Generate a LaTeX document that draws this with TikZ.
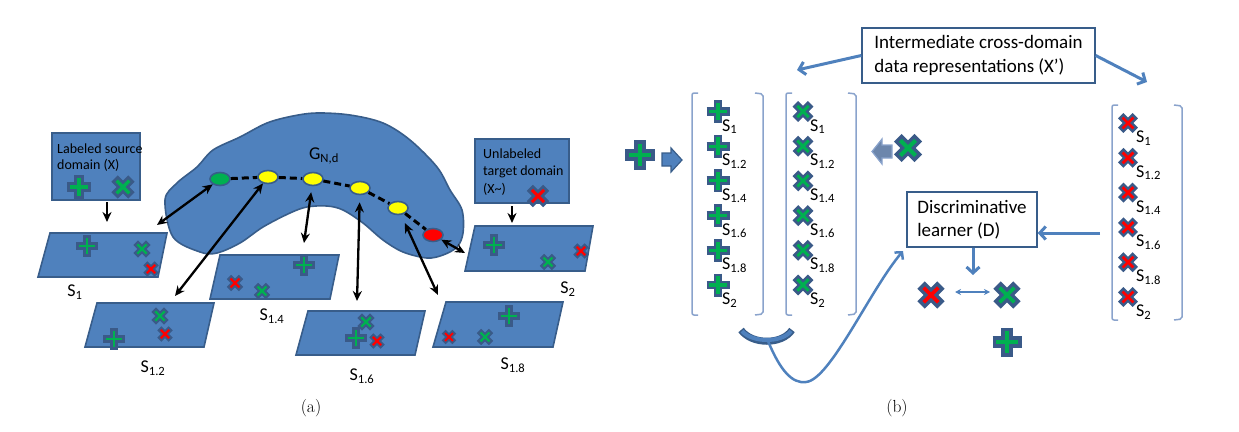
\documentclass[tikz,border=0pt]{standalone}
\usepackage{fontspec}
\newfontfamily\cf{Carlito}
\usetikzlibrary{arrows.meta,shapes.geometric}
\definecolor{fillb}{HTML}{4F81BD}
\definecolor{edgeb}{HTML}{385D8A}
\definecolor{mk}{HTML}{3A5A88}
\definecolor{mg}{HTML}{00B050}
\definecolor{mr}{HTML}{FF0000}
\definecolor{brk}{HTML}{8AA3CC}
\definecolor{grayarr}{HTML}{6C86AC}
\definecolor{dotyel}{HTML}{FFFF00}
\tikzset{
  pics/mplus/.style={code={
    \draw[mk, line width={0.78*#1}] (-#1,0)--(#1,0) (0,-#1)--(0,#1);
    \draw[mg, line width={0.27*#1}] (-0.76*#1,0)--(0.76*#1,0) (0,-0.76*#1)--(0,0.76*#1);}},
  pics/mcrossg/.style={code={\begin{scope}[rotate=45]
    \draw[mk, line width={0.74*#1}] (-#1,0)--(#1,0) (0,-#1)--(0,#1);
    \draw[mg, line width={0.27*#1}] (-0.74*#1,0)--(0.74*#1,0) (0,-0.74*#1)--(0,0.74*#1);\end{scope}}},
  pics/mcrossr/.style={code={\begin{scope}[rotate=45]
    \draw[mk, line width={0.74*#1}] (-#1,0)--(#1,0) (0,-#1)--(0,#1);
    \draw[mr, line width={0.27*#1}] (-0.74*#1,0)--(0.74*#1,0) (0,-0.74*#1)--(0,0.74*#1);\end{scope}}},
  region/.style={fill=fillb, draw=edgeb, line width=1.6},
  dotn/.style={ellipse, draw=edgeb, line width=1.6, minimum width=20, minimum height=13, inner sep=0},
  dbl/.style={black, line width=2.3, {Stealth[length=10pt,width=9pt]}-{Stealth[length=10pt,width=9pt]}},
  sgl/.style={black, line width=2.3, -{Stealth[length=10pt,width=9pt]}},
  slab/.style={font=\cf\fontsize{18}{20}\selectfont, inner sep=0},
  boxt/.style={font=\cf\fontsize{14}{16.5}\selectfont, align=left, anchor=north west, inner sep=0},
  rbox/.style={draw=edgeb, line width=1.4, fill=white, font=\cf\fontsize{19}{23.5}\selectfont, align=left},
  barrow/.style={fillb, line width=3, -{Straight Barb[length=6pt,width=13pt]}},
  brack/.style={brk, line width=1.5, rounded corners=2},
}
\begin{document}
\begin{tikzpicture}[x=1pt,y=-1pt]
\useasboundingbox (0,0) rectangle (1239,431);
% ---------------- panel (a) ----------------
\draw[region] plot[smooth cycle, tension=0.55] coordinates {(165,200) (177,183) (197,167) (213,150) (240,137) (267,123) (293,116) (317,113) (350,115) (383,123) (410,140) (437,167) (450,190) (462,210) (463,233) (457,247) (443,255) (427,258) (403,252) (383,240) (363,223) (343,210) (327,206) (307,207) (290,213) (263,227) (240,243) (217,253) (200,252) (173,237)};
\node[slab] (gnd) at (324,156) {G\textsubscript{N,d}};
\node[dotn, fill=mg] (d0) at (220,179) {};
\node[dotn, fill=dotyel] (d1) at (268,177) {};
\node[dotn, fill=dotyel] (d2) at (313,179) {};
\node[dotn, fill=dotyel] (d3) at (360,188) {};
\node[dotn, fill=dotyel] (d4) at (398,208) {};
\node[dotn, fill=mr] (d5) at (433,235) {};
\draw[black, line width=3, dash pattern=on 7pt off 4pt] (d0) -- (d1) -- (d2) -- (d3) -- (d4) -- (d5);
% source / target boxes
\node[region, draw, minimum width=88, minimum height=67, inner sep=0] (src) at (96,166.5) {};
\node[boxt] (srct) at (57,143.5) {Labeled source\\domain (X)};
\pic at (79,187) {mplus=12};
\pic at (123,187) {mcrossg=12};
\node[region, draw, minimum width=94, minimum height=64, inner sep=0] (tgt) at (522,171) {};
\node[boxt, font=\cf\fontsize{14}{17.5}\selectfont] (tgtt) at (483,148.5) {Unlabeled\\target domain\\(X\textasciitilde)};
\pic at (538,196) {mcrossr=11.5};
% parallelograms
\draw[region] (50,233) -- (167,233) -- (158,277) -- (38,277) -- cycle;
\draw[region] (97,303) -- (214,303) -- (204,347) -- (85,347) -- cycle;
\draw[region] (220,255) -- (339,255) -- (330,299) -- (210,299) -- cycle;
\draw[region] (308,311) -- (425,311) -- (415,355) -- (296,355) -- cycle;
\draw[region] (446,302) -- (563,302) -- (553,347) -- (433,347) -- cycle;
\draw[region] (475,226) -- (593,226) -- (585,271) -- (465,271) -- cycle;
\pic at (87,246) {mplus=11}; \pic at (142,249) {mcrossg=9}; \pic at (151,269) {mcrossr=8};
\pic at (160,316) {mcrossg=9}; \pic at (165,334) {mcrossr=8}; \pic at (114,339) {mplus=11};
\pic at (235,283) {mcrossr=8.5}; \pic at (262,291) {mcrossg=8.5}; \pic at (304,265) {mplus=11};
\pic at (366,322) {mcrossg=9}; \pic at (356,338) {mplus=11}; \pic at (377,341) {mcrossr=8};
\pic at (509,316) {mplus=11}; \pic at (449,337) {mcrossr=7.5}; \pic at (485,337) {mcrossg=8.5};
\pic at (494,245) {mplus=11}; \pic at (548,262) {mcrossg=8.5}; \pic at (581,251) {mcrossr=8};
\node[slab] (l1) at (75,292) {S\textsubscript{1}};
\node[slab] (l12) at (153,368) {S\textsubscript{1.2}};
\node[slab] (l14) at (272,316) {S\textsubscript{1.4}};
\node[slab] (l16) at (362,376) {S\textsubscript{1.6}};
\node[slab] (l18) at (513,365) {S\textsubscript{1.8}};
\node[slab] (l2) at (568,289) {S\textsubscript{2}};
% arrows
\coordinate (e0) at (157,225);
\coordinate (e1) at (175,296);
\coordinate (e2) at (304,243);
\coordinate (e3) at (357,301);
\coordinate (e4) at (438,295);
\coordinate (e5) at (465,253);
\draw[dbl] (d0) -- (e0);
\draw[dbl] (d1) -- (e1);
\draw[dbl, shorten <=6pt] (d2) -- (e2);
\draw[dbl, shorten <=7pt] (d3) -- (e3);
\draw[dbl, shorten <=9pt] (d4) -- (e4);
\draw[dbl] (d5) -- (e5);
\coordinate (sa) at (107,202); \coordinate (sb) at (107,222);
\draw[sgl] (sa) -- (sb);
\coordinate (ta) at (512,206); \coordinate (tb) at (512,223);
\draw[sgl] (ta) -- (tb);
\node[font=\fontsize{17.5}{20}\selectfont] (capa) at (311,408) {(a)};
% ---------------- panel (b) ----------------
\node[rbox, minimum width=233, minimum height=55] (ib) at (978.5,55.5) {Intermediate cross-domain\\data representations (X’)};
\coordinate (ibl) at (797,70); \coordinate (ibr) at (1147,82);
\draw[barrow] (ib.west) -- (ibl);
\draw[barrow] (ib.east) -- (ibr);
% brackets
\draw[brack] (698,93) -- (692,93) -- (692,315) -- (698,315);
\draw[brack] (755,93) -- (763,94) -- (763,314) -- (755,315);
\draw[brack] (792,93) -- (786,93) -- (786,315) -- (792,315);
\draw[brack] (848,93) -- (856,94) -- (856,314) -- (848,315);
\draw[brack] (1118,105) -- (1112,105) -- (1112,320) -- (1118,320);
\draw[brack] (1174,105) -- (1182,106) -- (1182,319) -- (1174,320);
\foreach \k/\s in {0/1,1/1.2,2/1.4,3/1.6,4/1.8,5/2}{
  \pic at (718,{111.5+34.7*\k}) {mplus=11.5};
  \node[slab, anchor=west] (pl\k) at (722,{126.5+34.7*\k}) {S\textsubscript{\s}};
  \pic at (803,{111.5+34.7*\k}) {mcrossg=10.8};
  \node[slab, anchor=west] (xl\k) at (810,{126.5+34.7*\k}) {S\textsubscript{\s}};
  \pic at (1128,{123+34.8*\k}) {mcrossr=10.3};
  \node[slab, anchor=west] (rl\k) at (1136,{138+34.8*\k}) {S\textsubscript{\s}};
}
% big plus and block arrow
\pic at (640,155) {mplus=15};
\draw[fill=fillb, draw=edgeb, line width=1.2] (662,153) -- (671,153) -- (671,148) -- (682,160) -- (671,172) -- (671,166) -- (662,166) -- cycle;
\draw[fill=grayarr, draw=brk, line width=1.2] (892,145) -- (882,145) -- (882,139) -- (872,151.5) -- (882,164) -- (882,158) -- (892,158) -- cycle;
\pic at (908,148) {mcrossg=14.5};
% discriminative learner
\node[rbox, minimum width=130, minimum height=55] (disc) at (972,219.5) {Discriminative\\learner (D)};
\coordinate (rc) at (1100,233);
\draw[barrow] (rc) -- (rc -| disc.east);
\coordinate (dd) at (973,275);
\draw[barrow] (disc.south -| dd) -- (dd);
\pic at (931,295) {mcrossr=14};
\pic at (1007,295) {mcrossg=14};
\pic at (1007,342) {mplus=14.5};
\coordinate (dl) at (955,292); \coordinate (dr) at (990,292);
\draw[fillb, line width=1.5, {Stealth[length=6pt,width=6pt]}-{Stealth[length=6pt,width=6pt]}] (dl) -- (dr);
% cup and curve
\draw[edgeb, line width=7] (741,330) .. controls (752,345) and (782,345) .. (792,330);
\draw[fillb, line width=4] (742,331) .. controls (752,343) and (782,343) .. (791,331);
\coordinate (cupb) at (768,341);
\coordinate (curl) at (806,382);
\coordinate (curend) at (903,251);
\draw[fillb, line width=2.5, -{Straight Barb[length=5pt,width=11pt]}] (cupb) .. controls (780,370) and (792,384) .. (curl) .. controls (830,380) and (870,290) .. (curend);
\node[font=\fontsize{17.5}{20}\selectfont] (capb) at (897,408) {(b)};
\end{tikzpicture}
\end{document}
